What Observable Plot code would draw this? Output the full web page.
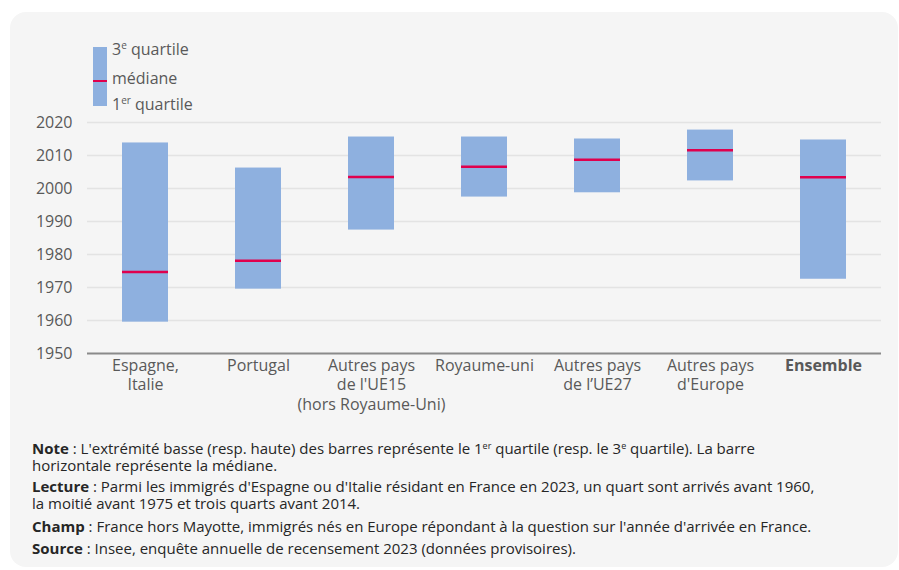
<!DOCTYPE html>
<html lang="fr">
<head>
<meta charset="utf-8">
<script src="https://cdn.jsdelivr.net/npm/d3@7"></script>
<script src="https://cdn.jsdelivr.net/npm/@observablehq/plot@0.6"></script>
<style>
  html, body { margin: 0; padding: 0; background: #ffffff; }
  body { width: 899px; height: 570px; overflow: hidden; position: relative; font-family: "Open Sans", sans-serif; }
  #panel { position: absolute; left: 10px; top: 12px; width: 888px; height: 555px; background: #f5f5f5; border-radius: 16px; }
  .abs { position: absolute; }
  .leg { position: absolute; left: 112px; font-size: 16px; line-height: 16px; color: #595959; white-space: nowrap; }
  .leg sup { font-size: 10px; vertical-align: 6px; line-height: 0; }
  #chart { position: absolute; left: 0; top: 100px; }
  #notes { position: absolute; left: 32px; top: 440px; font-size: 15px; line-height: 17.3px; color: #262626; white-space: nowrap; }
  #notes p { margin: 0; }
  #notes sup { font-size: 9px; vertical-align: 5px; line-height: 0; }
</style>
</head>
<body>
<div id="panel"></div>
<div class="abs" style="left:93px;top:47px;width:14px;height:59px;background:#8eb0df;"></div>
<div class="abs" style="left:93px;top:80px;width:14px;height:2px;background:#e0004d;"></div>
<div class="leg" style="top:41px;">3<sup>e</sup> quartile</div>
<div class="leg" style="top:70px;">médiane</div>
<div class="leg" style="top:96px;">1<sup>er</sup> quartile</div>
<div id="chart"></div>
<div id="notes">
  <p><b>Note</b> : L'extrémité basse (resp. haute) des barres représente le 1<sup>er</sup> quartile (resp. le 3<sup>e</sup> quartile). La barre<br>horizontale représente la médiane.</p>
  <p style="margin-top:3px"><b>Lecture</b> : Parmi les immigrés d'Espagne ou d'Italie résidant en France en 2023, un quart sont arrivés avant 1960,<br>la moitié avant 1975 et trois quarts avant 2014.</p>
  <p style="margin-top:6px"><b>Champ</b> : France hors Mayotte, immigrés nés en Europe répondant à la question sur l'année d'arrivée en France.</p>
  <p style="margin-top:5px"><b>Source</b> : Insee, enquête annuelle de recensement 2023 (données provisoires).</p>
</div>
<script>
const categories = [
  "Espagne,\nItalie",
  "Portugal",
  "Autres pays\nde l'UE15\n(hors Royaume-Uni)",
  "Royaume-uni",
  "Autres pays\nde l’UE27",
  "Autres pays\nd'Europe",
  "Ensemble"
];
const q1 = [1959.5, 1969.5, 1987.4, 1997.4, 1998.7, 2002.3, 1972.5];
const median = [1974.7, 1978.1, 2003.5, 2006.6, 2008.7, 2011.6, 2003.4];
const q3 = [2013.8, 2006.2, 2015.6, 2015.6, 2015.0, 2017.7, 2014.7];
const yTicks = [1950, 1960, 1970, 1980, 1990, 2000, 2010, 2020];
const boldCategory = "Ensemble";

const rows = categories.map((c, i) => ({cat: c, q1: q1[i], med: median[i], q3: q3[i]}));

const axisText = {tickSize: 0, tickPadding: 4, fontSize: 16, color: "#595959", lineHeight: 1.2, label: null};

const chart = Plot.plot({
  width: 899,
  height: 320,
  marginTop: 22,
  marginBottom: 67,
  marginLeft: 87,
  marginRight: 18,
  style: {background: "transparent", fontFamily: "Open Sans, sans-serif", fontSize: "16px"},
  x: {domain: categories, paddingInner: 0.59, paddingOuter: 0.295, label: null, axis: null},
  y: {domain: [1950, 2020], label: null, axis: null},
  marks: [
    Plot.gridY(yTicks.filter(d => d > 1950), {stroke: "#e3e3e3", strokeOpacity: 1, strokeWidth: 1.5}),
    Plot.axisY(yTicks, {tickSize: 0, tickPadding: 15, fontSize: 16, color: "#595959", tickFormat: d => String(d), label: null}),
    Plot.barY(rows, {x: "cat", y1: "q1", y2: "q3", fill: "#8eb0df"}),
    Plot.tickY(rows, {x: "cat", y: "med", stroke: "#e0004d", strokeWidth: 2.5}),
    Plot.ruleY([1950], {stroke: "#8a8a8a", strokeWidth: 2}),
    Plot.axisX(categories.filter(c => c !== boldCategory), axisText),
    Plot.axisX([boldCategory], {...axisText, fontWeight: "bold"})
  ]
});
document.getElementById("chart").appendChild(chart);
</script>
</body>
</html>
